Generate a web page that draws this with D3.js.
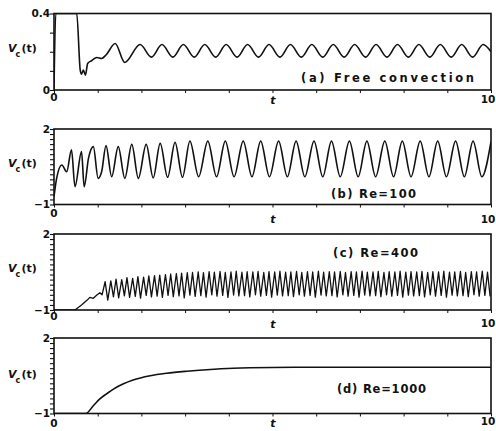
<!DOCTYPE html>
<html><head><meta charset="utf-8">
<script src="https://cdn.jsdelivr.net/npm/d3@7"></script>
<style>body{margin:0;background:#fff}svg{display:block}</style>
</head><body>
<svg id="chart" width="496" height="431"></svg>
<script>
// ---------- DATA ----------
const xTickValues = [0,1,2,3,4,5,6,7,8,9,10];
const panelTitles = ["(a) Free convection", "(b) Re=100", "(c) Re=400", "(d) Re=1000"];
const yLabelsA = ["0", "0.4"];
const yLabelsBCD = ["\u22121", "2"];

// (a) free convection
const aT = [0,0.04,0.52,0.60,0.63,0.67,0.72,0.77,0.86,0.98,1.09,1.19,1.40,1.62,1.97,2.23,2.47,2.72,2.96,3.21,3.45,3.70,3.94,4.19,4.43,4.68,4.92,5.17,5.41,5.66,5.90,6.15,6.39,6.64,6.88,7.13,7.37,7.62,7.86,8.11,8.35,8.60,8.84,9.09,9.33,9.58,9.82,10.0];
const aV = [0,0.4,0.4,0.104,0.083,0.104,0.078,0.139,0.153,0.170,0.165,0.183,0.243,0.144,0.238,0.172,0.238,0.172,0.238,0.172,0.238,0.172,0.238,0.172,0.238,0.172,0.238,0.172,0.238,0.172,0.238,0.172,0.238,0.172,0.238,0.172,0.238,0.172,0.238,0.172,0.238,0.172,0.238,0.172,0.238,0.172,0.238,0.20];

// (b) Re=100
const bT = [0,0.06,0.18,0.29,0.40,0.48,0.63,0.69,0.79,0.90,1.01,1.09,1.19,1.32,1.47,1.62,1.78,1.93,2.11,2.27,2.43,2.60,2.77,2.94,3.11,3.31,3.52,3.72,3.92,4.12,4.33,4.53,4.73,4.93,5.14,5.34,5.54,5.74,5.95,6.15,6.35,6.55,6.76,6.96,7.16,7.36,7.57,7.77,7.97,8.17,8.38,8.58,8.78,8.98,9.19,9.39,9.59,9.79,10.0];
const bV = [-0.69,0.04,0.57,0.30,1.17,-0.29,1.10,-0.29,0.84,1.30,0.04,0.30,1.34,0.10,1.30,0.04,1.39,0.04,1.39,0.06,1.43,0.08,1.47,0.08,1.52,0.10,1.52,0.10,1.52,0.10,1.52,0.10,1.52,0.10,1.52,0.10,1.52,0.10,1.52,0.10,1.52,0.10,1.52,0.10,1.52,0.10,1.52,0.10,1.52,0.10,1.52,0.10,1.52,0.10,1.52,0.10,1.52,0.10,1.50];

// (c) Re=400
const cRampT = [0,0.48,0.63,0.76,0.82,0.90,0.98,1.05,1.10];
const cRampV = [-1,-1,-0.80,-0.61,-0.50,-0.54,-0.41,-0.32,-0.40];
const cPeakT = [1.17,1.30,1.42,1.55,1.67,1.80,1.92,2.05,2.17,2.30,2.42,2.55,2.67,2.80,2.92,3.05,3.17,3.30,3.42,3.55,3.67,3.80,3.92,4.05,4.17,4.30,4.42,4.55,4.67,4.80,4.92,5.05,5.17,5.30,5.42,5.55,5.67,5.80,5.92,6.05,6.17,6.30,6.42,6.55,6.67,6.80,6.92,7.05,7.17,7.30,7.42,7.55,7.67,7.80,7.92,8.05,8.17,8.30,8.42,8.55,8.67,8.80,8.92,9.05,9.17,9.30,9.42,9.55,9.67,9.80,9.92];
const cPeakV = [0.12,0.15,0.22,0.20,0.28,0.25,0.32,0.30,0.35,0.36,0.38,0.40,0.42,0.44,0.45,0.47,0.48,0.50,0.47,0.51,0.49,0.52,0.48,0.50,0.53,0.49,0.51,0.50,0.52,0.48,0.51,0.50,0.53,0.49,0.50,0.52,0.48,0.51,0.50,0.53,0.49,0.51,0.50,0.52,0.48,0.51,0.50,0.53,0.49,0.50,0.52,0.48,0.51,0.50,0.53,0.49,0.51,0.50,0.52,0.48,0.51,0.50,0.53,0.49,0.50,0.52,0.48,0.51,0.50,0.53,0.49];
const cTroughT = [1.23,1.36,1.48,1.61,1.73,1.86,1.98,2.11,2.23,2.36,2.48,2.61,2.73,2.86,2.98,3.11,3.23,3.36,3.48,3.61,3.73,3.86,3.98,4.11,4.23,4.36,4.48,4.61,4.73,4.86,4.98,5.11,5.23,5.36,5.48,5.61,5.73,5.86,5.98,6.11,6.23,6.36,6.48,6.61,6.73,6.86,6.98,7.11,7.23,7.36,7.48,7.61,7.73,7.86,7.98,8.11,8.23,8.36,8.48,8.61,8.73,8.86,8.98,9.11,9.23,9.36,9.48,9.61,9.73,9.86,9.98];
const cTroughV = [-0.61,-0.48,-0.52,-0.44,-0.50,-0.46,-0.53,-0.42,-0.48,-0.45,-0.50,-0.42,-0.47,-0.44,-0.52,-0.41,-0.46,-0.43,-0.49,-0.40,-0.45,-0.42,-0.50,-0.41,-0.44,-0.43,-0.48,-0.40,-0.45,-0.42,-0.49,-0.41,-0.44,-0.43,-0.47,-0.40,-0.45,-0.42,-0.49,-0.41,-0.44,-0.43,-0.48,-0.40,-0.45,-0.42,-0.49,-0.41,-0.44,-0.43,-0.47,-0.40,-0.45,-0.42,-0.49,-0.41,-0.44,-0.43,-0.48,-0.40,-0.45,-0.42,-0.49,-0.41,-0.44,-0.43,-0.47,-0.40,-0.45,-0.42,-0.46];

// (d) Re=1000
const dT = [0,0.73,0.90,1.05,1.21,1.36,1.59,1.81,2.20,2.58,3.04,3.49,4.10,4.49,5.50,7.00,10.0];
const dV = [-1,-1,-0.69,-0.42,-0.21,-0.03,0.18,0.33,0.50,0.60,0.68,0.74,0.80,0.82,0.84,0.84,0.84];

// ---------- BUILD ----------
const zip = (T, V) => T.slice(0, Math.min(T.length, V.length)).map((t, i) => [t, V[i]]);
const cSeries = zip(cRampT, cRampV)
  .concat(zip(cPeakT, cPeakV), zip(cTroughT, cTroughV))
  .sort((p, q) => p[0] - q[0]);

const minor = d3.range(16).map(i => -1 + i * 0.2);
const panels = [
  {top: 13.5, bottom: 90, dom: [0, 0.4], ticks: [0,0.1,0.2,0.3,0.4], lab: yLabelsA,
   data: zip(aT, aV), title: panelTitles[0], tx: 301, tw: 173, ty: 78, ylab: 52,
   zeroDy: 7, tDy: 10, tenDy: 9},
  {top: 129, bottom: 204.5, dom: [-1, 2], ticks: minor, lab: yLabelsBCD,
   data: zip(bT, bV), title: panelTitles[1], tx: 331, tw: 85, ty: 194, ylab: 167,
   zeroDy: 8.5, tDy: 14.5, tenDy: 14.5},
  {top: 234, bottom: 310, dom: [-1, 2], ticks: minor, lab: yLabelsBCD,
   data: cSeries, title: panelTitles[2], tx: 333, tw: 85, ty: 253, ylab: 272,
   zeroDy: 6.5, tDy: 14, tenDy: 13},
  {top: 338, bottom: 413.5, dom: [-1, 2], ticks: minor, lab: yLabelsBCD,
   data: zip(dT, dV), title: panelTitles[3], tx: 337, tw: 89, ty: 389, ylab: 378,
   zeroDy: 9.5, tDy: 9.5, tenDy: 8}
];

const svg = d3.select("#chart");
const x = d3.scaleLinear().domain([0, 10]).range([54, 491]);
const font = "'DejaVu Sans', sans-serif";

panels.forEach((p, idx) => {
  const y = d3.scaleLinear().domain(p.dom).range([p.bottom, p.top]);
  const g = svg.append("g");

  const cid = "clip" + idx;
  svg.append("clipPath").attr("id", cid).append("rect")
    .attr("x", 54).attr("y", p.top).attr("width", 437).attr("height", p.bottom - p.top);

  const line = d3.line().x(d => x(d[0])).y(d => y(d[1]))
    .curve(idx === 2 ? d3.curveLinear : d3.curveMonotoneX);
  g.append("path").datum(p.data).attr("d", line)
    .attr("fill", "none").attr("stroke", "#111").attr("stroke-width", idx === 2 ? 1.3 : 1.6)
    .attr("stroke-linejoin", "round").attr("clip-path", `url(#${cid})`);

  const yAxis = d3.axisLeft(y).tickValues(p.ticks).tickSize(4).tickSizeOuter(0)
    .tickFormat((d, i) => i === 0 ? p.lab[0] : (i === p.ticks.length - 1 ? p.lab[1] : ""));
  const ya = g.append("g").attr("transform", "translate(54,0)").call(yAxis);
  ya.select(".domain").remove();
  ya.selectAll("line").attr("stroke", "#111").attr("stroke-width", 1.1);
  ya.selectAll("text").attr("font-family", font).attr("font-weight", "bold")
    .attr("font-size", 10.5).attr("fill", "#111").attr("x", -4);

  const xAxis = d3.axisBottom(x).tickValues(xTickValues).tickSize(3).tickSizeOuter(0).tickFormat("");
  const xa = g.append("g").attr("transform", `translate(0,${p.bottom})`).call(xAxis);
  xa.select(".domain").remove();
  xa.selectAll("line").attr("stroke", "#111").attr("stroke-width", 1);

  g.append("rect").attr("x", 54).attr("y", p.top).attr("width", 437).attr("height", p.bottom - p.top)
    .attr("fill", "none").attr("stroke", "#111").attr("stroke-width", 1.6);

  const xl = g.append("g").attr("font-family", font).attr("font-weight", "bold").attr("fill", "#111");
  xl.append("text").attr("x", x(0)).attr("y", p.bottom + p.zeroDy).attr("dy", "0.35em")
    .attr("text-anchor", "middle").attr("font-size", 10.5).text("0");
  xl.append("text").attr("x", x(10) - 3).attr("y", p.bottom + p.tenDy).attr("dy", "0.35em")
    .attr("text-anchor", "middle").attr("font-size", 10.5).text("10");
  xl.append("text").attr("x", 273).attr("y", p.bottom + p.tDy).attr("dy", "0.35em")
    .attr("text-anchor", "middle").attr("font-size", 11).attr("font-style", "italic").text("t");

  // y label V_c(t) built from separate, non-overlapping pieces
  const yl = g.append("g").attr("font-family", font).attr("font-weight", "bold").attr("fill", "#111");
  yl.append("text").attr("x", 8).attr("y", p.ylab).attr("font-size", 11)
    .attr("font-style", "italic").text("V");
  yl.append("text").attr("x", 15.5).attr("y", p.ylab + 5).attr("font-size", 8).text("c");
  yl.append("text").attr("x", 21.5).attr("y", p.ylab).attr("font-size", 11).text("(t)");

  g.append("text").attr("x", p.tx).attr("y", p.ty).attr("dy", "0.35em")
    .attr("font-family", font).attr("font-weight", "bold").attr("font-size", 11.5).attr("fill", "#111")
    .attr("textLength", p.tw).attr("lengthAdjust", "spacing")
    .attr("xml:space", "preserve").text(p.title);
});
</script>
</body></html>
